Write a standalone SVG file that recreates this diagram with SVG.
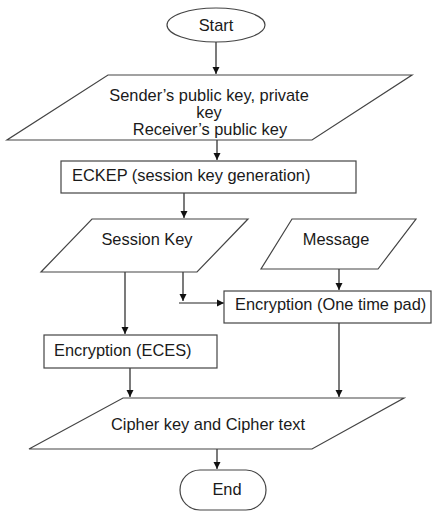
<svg xmlns="http://www.w3.org/2000/svg" width="432" height="514" viewBox="0 0 432 514">
<style>
.s{fill:#fff;stroke:#444;stroke-width:1.2}
.t{font-family:"Liberation Sans",Arial,sans-serif;font-size:16.4px;fill:#1a1a1a}
.c{fill:none;stroke:#222;stroke-width:1.2}
</style>
<defs>
<marker id="a" markerWidth="8" markerHeight="8" refX="7" refY="4" orient="auto" markerUnits="userSpaceOnUse">
<path d="M0,0.5 L7,4 L0,7.5 Z" fill="#111"/>
</marker>
</defs>
<rect width="432" height="514" fill="#fff"/>
<g id="connectors">
<line class="c" x1="216" y1="42" x2="216" y2="74" marker-end="url(#a)"/>
<line class="c" x1="217" y1="140" x2="217" y2="160" marker-end="url(#a)"/>
<line class="c" x1="184" y1="193" x2="184" y2="218" marker-end="url(#a)"/>
<line class="c" x1="125" y1="272" x2="125" y2="334" marker-end="url(#a)"/>
<line class="c" x1="183" y1="272" x2="183" y2="301" marker-end="url(#a)"/>
<line class="c" x1="179" y1="303" x2="224" y2="303" marker-end="url(#a)"/>
<line class="c" x1="339" y1="269" x2="339" y2="290" marker-end="url(#a)"/>
<line class="c" x1="130" y1="368" x2="130" y2="397" marker-end="url(#a)"/>
<line class="c" x1="339" y1="323" x2="339" y2="397" marker-end="url(#a)"/>
<line class="c" x1="217" y1="449" x2="217" y2="469" marker-end="url(#a)"/>
</g>
<g id="start">
<ellipse class="s" cx="216" cy="25" rx="49" ry="17"/>
<text class="t" x="216" y="31" text-anchor="middle">Start</text>
</g>
<g id="keys">
<polygon class="s" points="108,75 412,75 312,140 7,140"/>
<text class="t" x="209" y="101" text-anchor="middle">Sender’s public key, private</text>
<text class="t" x="209" y="118" text-anchor="middle">key</text>
<text class="t" x="210" y="135" text-anchor="middle">Receiver’s public key</text>
</g>
<g id="eckep">
<rect class="s" x="61" y="161" width="295" height="32"/>
<text class="t" x="72" y="181">ECKEP (session key generation)</text>
</g>
<g id="sessionkey">
<polygon class="s" points="92,219 248,219 197,272 41,272"/>
<text class="t" x="147" y="245" text-anchor="middle">Session Key</text>
</g>
<g id="message">
<polygon class="s" points="292,219 416,219 378,269 261,269"/>
<text class="t" x="336" y="245" text-anchor="middle">Message</text>
</g>
<g id="otp">
<rect class="s" x="224" y="291" width="207" height="32"/>
<text class="t" x="235" y="310">Encryption (One time pad)</text>
</g>
<g id="eces">
<rect class="s" x="44" y="335" width="173" height="33"/>
<text class="t" x="54" y="356">Encryption (ECES)</text>
</g>
<g id="cipher">
<polygon class="s" points="123,398 404,398 312,449 29,449"/>
<text class="t" x="208" y="430" text-anchor="middle">Cipher key and Cipher text</text>
</g>
<g id="end">
<rect class="s" x="180" y="470" width="86" height="40" rx="20" ry="20"/>
<text class="t" x="227" y="495" text-anchor="middle">End</text>
</g>
</svg>
